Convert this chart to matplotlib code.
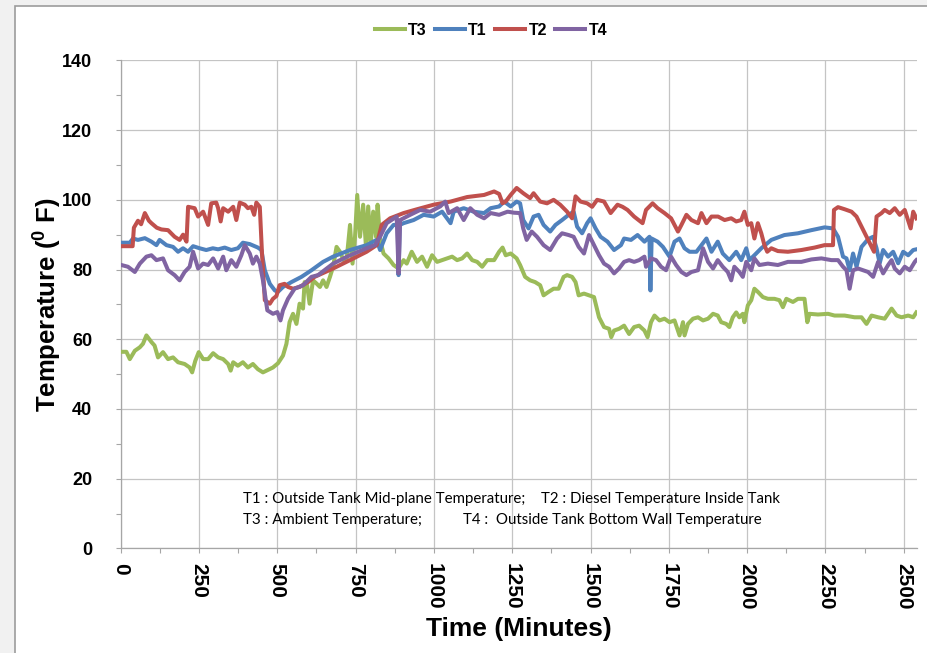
"""
Tank temperature record: T1..T4 against time in minutes.
"""

import matplotlib
matplotlib.use("Agg")

import matplotlib.pyplot as plt
import matplotlib.patches as patches
from matplotlib import font_manager
from matplotlib.lines import Line2D
from matplotlib.ticker import MultipleLocator


#
# Data (minutes, deg F)
#

t3_time = [
    2, 18, 29, 45, 61, 71, 82, 98, 108, 119,
    135, 151, 167, 183, 204, 220, 228, 238, 249, 263,
    279, 295, 311, 327, 343, 351, 359, 374, 390, 406,
    422, 438, 454, 470, 486, 502, 518, 529, 539, 550,
    561, 571, 582, 587, 595, 603, 614, 625, 636, 646,
    657, 668, 678, 689, 700, 711, 721, 732, 740, 748,
    755, 764, 774, 783, 790, 798, 806, 815, 820, 828,
    839, 855, 871, 887, 903, 913, 929, 946, 962, 978,
    994, 1010, 1026, 1042, 1058, 1074, 1090, 1106, 1122, 1138,
    1154, 1170, 1192, 1208, 1219, 1229, 1245, 1264, 1275, 1291,
    1307, 1323, 1339, 1350, 1366, 1382, 1398, 1414, 1425, 1441,
    1452, 1462, 1479, 1495, 1511, 1527, 1543, 1559, 1566, 1575,
    1591, 1607, 1623, 1639, 1655, 1672, 1682, 1693, 1704, 1720,
    1736, 1752, 1768, 1784, 1795, 1800, 1811, 1827, 1843, 1859,
    1875, 1891, 1906, 1917, 1933, 1943, 1954, 1965, 1975, 1986,
    1991, 2002, 2013, 2023, 2034, 2050, 2066, 2087, 2103, 2114,
    2125, 2146, 2162, 2183, 2192, 2199, 2226, 2258, 2279, 2311,
    2343, 2365, 2381, 2397, 2418, 2439, 2461, 2477, 2493, 2514,
    2530, 2540,
]
t3_temp = [
    56.4, 56.4, 54.3, 56.7, 57.7, 58.7, 61.1, 59.2, 58.2, 54.8,
    56.3, 54.3, 54.8, 53.4, 52.9, 51.9, 50.5, 53.8, 56.3, 54.3,
    54.3, 56.0, 54.8, 54.3, 52.9, 51.0, 53.4, 52.4, 53.4, 51.9,
    52.9, 51.4, 50.5, 51.2, 51.9, 53.1, 55.3, 58.7, 64.9, 67.3,
    64.4, 70.2, 68.8, 76.4, 75.5, 70.2, 76.9, 76.0, 75.0, 76.9,
    75.0, 77.9, 80.8, 86.5, 85.1, 82.7, 82.7, 92.8, 81.7, 89.4,
    101.4, 89.4, 98.6, 86.5, 98.1, 87.3, 96.6, 89.4, 98.6, 88.5,
    84.6, 83.2, 81.3, 80.3, 82.7, 81.7, 85.1, 82.2, 83.7, 80.8,
    84.1, 82.2, 82.7, 83.2, 83.7, 82.7, 83.2, 84.6, 82.7, 82.2,
    80.8, 82.7, 82.7, 85.1, 86.3, 84.1, 84.6, 83.2, 81.3, 77.9,
    76.9, 76.4, 75.5, 72.6, 73.6, 74.5, 74.5, 77.9, 78.4, 77.9,
    76.4, 72.6, 73.1, 72.6, 72.1, 66.3, 63.5, 63.0, 60.6, 62.5,
    63.0, 63.9, 61.5, 63.5, 63.9, 62.5, 60.6, 64.9, 66.8, 65.4,
    65.9, 64.9, 65.4, 61.1, 64.9, 61.1, 64.4, 65.9, 66.3, 65.4,
    65.9, 67.3, 66.8, 64.9, 64.4, 63.5, 66.3, 67.7, 66.3, 67.3,
    64.9, 69.7, 71.2, 74.5, 73.6, 72.1, 71.6, 71.6, 71.2, 69.2,
    71.6, 70.7, 71.6, 71.6, 64.9, 67.3, 67.1, 67.3, 66.8, 66.8,
    66.3, 66.3, 64.4, 66.8, 66.3, 65.9, 68.8, 66.8, 66.3, 66.8,
    66.3, 67.7,
]

t1_time = [
    2, 29, 39, 55, 77, 98, 114, 124, 146, 167,
    183, 199, 215, 231, 252, 273, 294, 311, 332, 353,
    374, 390, 412, 438, 449, 460, 476, 492, 502, 518,
    545, 577, 609, 646, 678, 732, 785, 817, 828, 849,
    871, 884, 887, 891, 903, 935, 967, 999, 1026, 1053,
    1063, 1095, 1127, 1160, 1181, 1208, 1224, 1245, 1264, 1275,
    1285, 1302, 1318, 1334, 1350, 1371, 1388, 1409, 1430, 1446,
    1457, 1473, 1489, 1500, 1516, 1532, 1554, 1575, 1597, 1607,
    1629, 1650, 1672, 1688, 1691, 1695, 1714, 1731, 1752, 1768,
    1784, 1800, 1816, 1838, 1854, 1870, 1886, 1906, 1922, 1943,
    1965, 1981, 1997, 2007, 2023, 2045, 2077, 2119, 2162, 2205,
    2247, 2274, 2290, 2306, 2317, 2327, 2338, 2349, 2365, 2386,
    2402, 2413, 2423, 2434, 2450, 2466, 2482, 2498, 2514, 2530,
    2540,
]
t1_temp = [
    87.7, 87.7, 88.9, 88.5, 89.0, 88.0, 87.0, 88.5, 87.0, 86.5,
    85.1, 86.1, 85.1, 86.7, 86.1, 85.6, 86.1, 85.8, 86.3, 85.6,
    86.1, 87.7, 87.3, 86.3, 85.6, 79.8, 75.9, 74.0, 73.6, 75.0,
    76.4, 77.9, 79.8, 82.2, 83.7, 85.6, 87.0, 88.5, 85.6, 90.4,
    92.8, 92.8, 78.4, 92.8, 93.3, 94.2, 95.7, 95.2, 96.6, 93.3,
    96.6, 97.6, 96.6, 96.2, 97.6, 98.1, 99.5, 98.1, 99.5, 99.0,
    94.2, 91.8, 95.2, 95.7, 92.8, 90.9, 92.8, 94.2, 95.7, 96.6,
    92.3, 90.4, 93.3, 94.7, 91.8, 89.4, 88.0, 85.6, 87.0, 88.9,
    88.5, 89.9, 88.0, 89.4, 74.0, 88.9, 88.0, 86.5, 83.7, 88.0,
    88.9, 86.1, 85.1, 85.1, 87.0, 88.9, 85.1, 88.0, 84.6, 82.7,
    85.1, 82.7, 86.1, 82.7, 84.1, 86.1, 88.5, 89.9, 90.4, 91.3,
    92.1, 91.8, 89.4, 83.7, 83.2, 79.8, 84.6, 80.8, 86.5, 88.7,
    89.4, 86.1, 81.8, 85.6, 83.7, 85.1, 81.8, 85.1, 84.1, 85.6,
    85.8,
]

t2_time = [
    0, 38, 42, 55, 65, 77, 90, 98, 115, 130,
    151, 172, 188, 199, 210, 215, 236, 247, 263, 279,
    289, 305, 311, 319, 327, 343, 359, 369, 380, 396,
    406, 417, 426, 433, 444, 451, 460, 476, 486, 497,
    507, 523, 534, 550, 571, 598, 619, 678, 732, 785,
    817, 833, 860, 903, 946, 999, 1053, 1106, 1160, 1192,
    1208, 1219, 1229, 1245, 1264, 1285, 1307, 1318, 1339, 1361,
    1382, 1403, 1425, 1441, 1452, 1468, 1489, 1505, 1521, 1543,
    1564, 1586, 1602, 1618, 1639, 1666, 1677, 1698, 1714, 1736,
    1757, 1779, 1790, 1806, 1822, 1843, 1854, 1870, 1886, 1907,
    1928, 1949, 1965, 1981, 1991, 2002, 2013, 2023, 2034, 2045,
    2055, 2064, 2077, 2098, 2130, 2173, 2215, 2247, 2274, 2277,
    2290, 2311, 2333, 2349, 2365, 2386, 2405, 2413, 2429, 2439,
    2455, 2471, 2487, 2503, 2522, 2530, 2540,
]
t2_temp = [
    86.7, 86.7, 92.0, 94.0, 93.0, 96.2, 94.0, 93.3, 92.0, 91.5,
    91.3, 89.4, 88.5, 90.0, 88.0, 98.0, 97.6, 95.2, 96.6, 92.8,
    99.0, 99.2, 97.6, 93.8, 97.6, 96.6, 98.0, 94.2, 99.2, 98.6,
    97.6, 98.0, 95.7, 99.2, 98.0, 84.6, 71.2, 70.2, 71.6, 72.4,
    75.5, 75.9, 75.0, 74.5, 75.0, 76.4, 77.9, 80.3, 82.7, 85.1,
    87.0, 92.8, 94.7, 96.2, 97.3, 98.6, 99.5, 100.8, 101.4, 102.4,
    101.7, 99.0, 99.5, 101.4, 103.4, 101.9, 100.5, 101.9, 99.5, 99.0,
    100.0, 98.6, 96.6, 94.7, 101.0, 99.5, 99.0, 98.0, 100.0, 99.5,
    96.2, 98.6, 98.0, 97.1, 95.2, 93.3, 97.1, 99.0, 97.6, 96.2,
    94.7, 90.9, 92.8, 95.7, 94.2, 93.3, 96.2, 93.3, 95.2, 95.2,
    94.2, 94.7, 93.8, 94.2, 96.6, 92.8, 93.3, 88.9, 93.3, 90.4,
    87.0, 85.1, 86.1, 85.3, 85.1, 85.6, 86.3, 87.0, 87.0, 97.1,
    97.9, 97.3, 96.6, 95.2, 92.3, 88.5, 85.1, 95.2, 96.2, 97.1,
    96.2, 97.6, 95.7, 97.1, 91.8, 96.6, 94.7,
]

t4_time = [
    2, 23, 45, 61, 82, 98, 114, 135, 151, 172,
    188, 204, 220, 231, 247, 263, 279, 295, 311, 327,
    337, 353, 369, 385, 396, 412, 422, 433, 444, 454,
    468, 486, 500, 510, 518, 534, 555, 582, 609, 630,
    678, 732, 785, 812, 828, 849, 881, 887, 892, 924,
    956, 988, 1020, 1036, 1047, 1074, 1095, 1116, 1138, 1160,
    1181, 1208, 1235, 1256, 1275, 1285, 1296, 1312, 1329, 1350,
    1371, 1393, 1409, 1430, 1446, 1462, 1479, 1495, 1511, 1527,
    1543, 1559, 1575, 1591, 1607, 1623, 1639, 1655, 1672, 1677,
    1693, 1709, 1725, 1741, 1757, 1773, 1790, 1806, 1822, 1843,
    1859, 1875, 1891, 1906, 1922, 1938, 1949, 1959, 1975, 1986,
    1997, 2013, 2023, 2039, 2066, 2098, 2130, 2173, 2205, 2237,
    2269, 2290, 2306, 2317, 2327, 2338, 2354, 2370, 2386, 2402,
    2418, 2434, 2450, 2461, 2471, 2487, 2503, 2519, 2535, 2540,
]
t4_temp = [
    81.3, 80.8, 79.3, 81.7, 83.7, 84.1, 82.7, 83.2, 79.8, 78.4,
    76.9, 79.3, 80.8, 85.1, 80.3, 81.7, 81.3, 83.2, 80.3, 83.7,
    79.8, 82.7, 80.8, 84.1, 87.0, 84.6, 81.7, 83.7, 81.7, 76.9,
    68.3, 67.3, 67.8, 65.4, 68.3, 71.6, 74.5, 75.5, 77.9, 78.4,
    81.7, 84.1, 86.1, 87.0, 89.4, 93.3, 95.2, 78.9, 94.2, 95.7,
    97.1, 96.6, 98.1, 99.5, 96.2, 97.6, 94.2, 97.6, 95.7, 94.7,
    96.2, 95.7, 96.6, 96.3, 96.2, 91.8, 88.5, 90.9, 89.4, 87.0,
    85.6, 88.9, 90.4, 89.9, 89.4, 86.5, 84.6, 89.9, 87.0, 84.1,
    81.7, 80.8, 78.9, 80.3, 82.2, 82.7, 82.2, 82.7, 83.7, 80.8,
    83.2, 82.7, 80.8, 79.8, 83.7, 81.3, 79.3, 78.4, 79.3, 79.8,
    86.1, 82.2, 80.3, 82.7, 80.8, 79.3, 76.9, 80.8, 79.3, 77.9,
    82.2, 79.8, 83.2, 81.3, 81.7, 81.3, 82.2, 82.2, 82.9, 83.2,
    82.7, 82.7, 80.8, 79.8, 74.5, 79.8, 80.3, 79.8, 79.3, 77.9,
    82.2, 78.9, 81.3, 82.7, 80.3, 78.9, 80.8, 79.8, 82.2, 82.7,
]

series_names = ["T3", "T1", "T2", "T4"]

note_lines = [
    ("T1 : Outside Tank Mid-plane Temperature;", "T2 : Diesel Temperature Inside Tank"),
    ("T3 : Ambient Temperature;", "T4 :  Outside Tank Bottom Wall Temperature"),
]


#
# Fonts
#

installed = {f.name for f in font_manager.fontManager.ttflist}

NARROW = (
    "Liberation Sans Narrow"
    if "Liberation Sans Narrow" in installed
    else "Liberation Sans"
)

NOTE_FONT = "Lato" if "Lato" in installed else "DejaVu Sans"


COLORS = {
    "T3": "#9BBB59",
    "T1": "#4F81BD",
    "T2": "#C0504D",
    "T4": "#8064A2",
}

LINE_W = 2.9


def main():

    fig = plt.figure(figsize=(9.28, 6.53), dpi=100)

    fig.patch.set_facecolor("#f1f1f1")

    #
    # White chart panel with its grey frame (left and top only visible)
    #

    panel = patches.Rectangle(
        (15 / 928, -0.05),
        1.2,
        (647 / 653) + 0.05,
        transform=fig.transFigure,
        facecolor="white",
        edgecolor="#9c9c9c",
        linewidth=1.2,
        zorder=-10,
    )

    fig.patches.append(panel)

    ax = fig.add_axes([0.1301, 0.1602, 0.8580, 0.7473])

    ax.set_zorder(5)
    ax.set_facecolor("white")

    data = {
        "T3": (t3_time, t3_temp),
        "T1": (t1_time, t1_temp),
        "T2": (t2_time, t2_temp),
        "T4": (t4_time, t4_temp),
    }

    for name in series_names:

        t, v = data[name]

        ax.plot(
            t,
            v,
            color=COLORS[name],
            linewidth=LINE_W,
            solid_joinstyle="round",
            zorder=3,
        )

    #
    # Axes, grid, ticks
    #

    ax.set_xlim(0, 2542)
    ax.set_ylim(0, 140)

    ax.xaxis.set_major_locator(MultipleLocator(250))
    ax.xaxis.set_minor_locator(MultipleLocator(125))
    ax.yaxis.set_major_locator(MultipleLocator(20))
    ax.yaxis.set_minor_locator(MultipleLocator(10))

    ax.grid(which="major", color="#c4c4c4", linewidth=0.9, zorder=1)
    ax.set_axisbelow(True)

    for side in ["top", "right"]:
        ax.spines[side].set_visible(False)

    for side in ["left", "bottom"]:
        ax.spines[side].set_color("#a6a6a6")
        ax.spines[side].set_linewidth(0.9)

    ax.tick_params(
        which="both",
        direction="out",
        length=3.6,
        width=0.8,
        color="#a6a6a6",
    )

    ax.tick_params(axis="y", which="major", pad=17)
    ax.tick_params(axis="x", which="major", pad=7, labelrotation=-90)

    for lab in ax.get_yticklabels():
        lab.set_fontfamily(NARROW)
        lab.set_fontweight("bold")
        lab.set_fontsize(13)

    for lab in ax.get_xticklabels():
        lab.set_fontfamily(NARROW)
        lab.set_fontweight("bold")
        lab.set_fontsize(15)
        lab.set_va("top")
        lab.set_ha("center")

    ax.set_xlabel(
        "Time (Minutes)",
        fontfamily="Liberation Sans",
        fontweight="bold",
        fontsize=19,
        va="center",
    )
    ax.xaxis.set_label_coords(0.5, -0.165)

    ax.set_ylabel(
        r"Temperature ($\mathregular{^0}$ F)",
        fontfamily="Liberation Sans",
        fontweight="bold",
        fontsize=18.5,
        va="center",
    )
    ax.yaxis.set_label_coords(-0.091, 0.5)

    #
    # Legend on top
    #

    handles = [
        Line2D([0], [0], color=COLORS[n], linewidth=LINE_W)
        for n in series_names
    ]

    fig.legend(
        handles,
        series_names,
        loc="center",
        bbox_to_anchor=(0.529, 0.954),
        ncol=4,
        frameon=False,
        prop=dict(family=NARROW, weight="bold", size=11.5),
        handlelength=1.9,
        handletextpad=0.2,
        columnspacing=0.5,
    )

    #
    # Note inside the plot
    #

    note_x = [390, 1342]
    note_x2 = [390, 1093]
    note_y = [14.2, 8.1]

    for row, (left_txt, right_txt) in enumerate(note_lines):

        right_x = note_x[1] if row == 0 else note_x2[1]

        ax.text(
            note_x[0], note_y[row], left_txt,
            fontfamily=NOTE_FONT, fontsize=10.8, va="center", ha="left",
            zorder=4,
        )

        ax.text(
            right_x, note_y[row], right_txt,
            fontfamily=NOTE_FONT, fontsize=10.8, va="center", ha="left",
            zorder=4,
        )

    fig.savefig("out.png", dpi=100, facecolor=fig.get_facecolor())

    plt.close(fig)


if __name__ == "__main__":

    main()
